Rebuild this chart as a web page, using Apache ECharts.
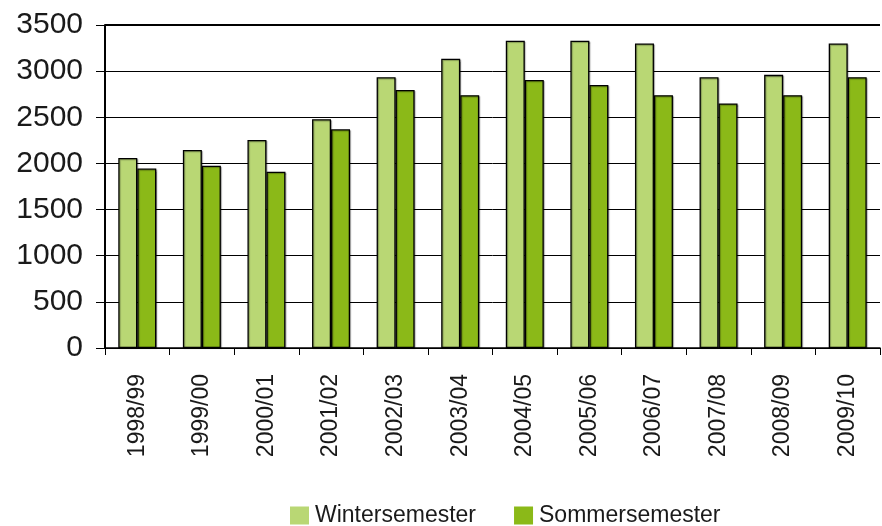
<!DOCTYPE html>
<html>
<head>
<meta charset="utf-8">
<script src="https://cdn.jsdelivr.net/npm/echarts@6/dist/echarts.min.js"></script>
<style>
  html, body { margin: 0; padding: 0; background: #fff; }
  #chart { width: 882px; height: 526px; }
</style>
</head>
<body>
<div id="chart"></div>
<script>
// Semesters (academic years) on the x axis
const semesters = ['1998/99', '1999/00', '2000/01', '2001/02', '2002/03', '2003/04',
                   '2004/05', '2005/06', '2006/07', '2007/08', '2008/09', '2009/10'];
// Counts per winter semester
const winterValues = [2060, 2145, 2255, 2480, 2935, 3135, 3330, 3330, 3300, 2935, 2960, 3300];
// Counts per summer semester
const summerValues = [1945, 1975, 1910, 2370, 2795, 2740, 2905, 2850, 2740, 2650, 2740, 2935];
// Value axis ticks
const yTicks = [0, 500, 1000, 1500, 2000, 2500, 3000, 3500];

const FONT = '"Liberation Sans", Arial, sans-serif';
const TEXT = '#1a1a1a';

const barStyle = (color) => ({
  color: color,
  borderColor: '#000',
  borderWidth: 1.3,
  shadowColor: 'rgba(0,0,0,0.3)',
  shadowBlur: 1,
  shadowOffsetX: 1,
  shadowOffsetY: 1
});

const chart = echarts.init(document.getElementById('chart'), null, { renderer: 'canvas' });
chart.setOption({
  animation: false,
  backgroundColor: '#fff',
  textStyle: { fontFamily: FONT, color: TEXT },
  grid: { left: 105, right: 2, top: 25, bottom: 178, containLabel: false },
  legend: {
    left: 290,
    top: 504,
    padding: 0,
    itemWidth: 19,
    itemHeight: 18,
    itemGap: 38,
    icon: 'rect',
    itemStyle: { borderWidth: 0, shadowBlur: 0, shadowOffsetX: 0, shadowOffsetY: 0 },
    textStyle: { fontFamily: FONT, fontSize: 23, color: TEXT, padding: [0, 0, 0, 1] },
    data: ['Wintersemester', 'Sommersemester']
  },
  xAxis: {
    type: 'category',
    data: semesters,
    boundaryGap: true,
    axisLine: { lineStyle: { color: '#000', width: 1.5 } },
    axisTick: { show: true, length: 7, alignWithLabel: false, lineStyle: { color: '#000', width: 1 } },
    axisLabel: { rotate: 90, margin: 26, fontSize: 23, color: TEXT, fontFamily: FONT }
  },
  yAxis: {
    type: 'value',
    min: yTicks[0],
    max: yTicks[yTicks.length - 1],
    interval: 500,
    axisLine: { show: true, lineStyle: { color: '#000', width: 2 } },
    axisTick: { show: true, length: 9, lineStyle: { color: '#000', width: 1 } },
    axisLabel: {
      margin: 22,
      fontSize: 30,
      color: TEXT,
      fontFamily: FONT,
      formatter: (v) => String(v)
    },
    splitLine: { show: true, lineStyle: { color: '#000', width: 1 } }
  },
  series: [
    {
      name: 'Wintersemester',
      type: 'bar',
      data: winterValues,
      barWidth: 19,
      barGap: '0%',
      itemStyle: barStyle('#b9d774'),
      markLine: {
        silent: true,
        symbol: 'none',
        label: { show: false },
        lineStyle: { color: '#000', width: 2, type: 'solid' },
        data: [{ yAxis: yTicks[yTicks.length - 1] }]
      }
    },
    {
      name: 'Sommersemester',
      type: 'bar',
      data: summerValues,
      barWidth: 19,
      barGap: '0%',
      itemStyle: barStyle('#8bb918')
    }
  ]
});
</script>
</body>
</html>
